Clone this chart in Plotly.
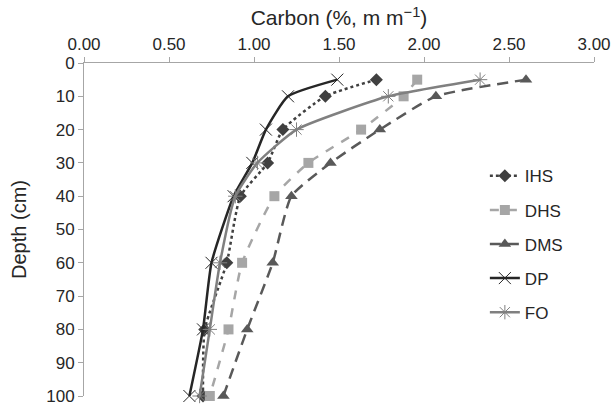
import plotly.graph_objects as go

depth = [5, 10, 20, 30, 40, 60, 80, 100]
ihs = [1.72, 1.42, 1.17, 1.08, 0.92, 0.84, 0.71, 0.70]
dhs = [1.96, 1.88, 1.63, 1.32, 1.12, 0.93, 0.85, 0.74]
dms = [2.60, 2.07, 1.74, 1.45, 1.22, 1.11, 0.96, 0.82]
dp = [1.49, 1.20, 1.07, 0.99, 0.88, 0.75, 0.70, 0.62]
fo = [2.33, 1.79, 1.25, 1.02, 0.89, 0.80, 0.74, 0.68]

x_ticks = [0, 0.5, 1.0, 1.5, 2.0, 2.5, 3.0]
x_labels = ["0.00", "0.50", "1.00", "1.50", "2.00", "2.50", "3.00"]
y_ticks = list(range(0, 101, 10))

series = [
    ("IHS", ihs, "#404040", "dot", "diamond", 10),
    ("DHS", dhs, "#a6a6a6", "dash", "square", 10),
    ("DMS", dms, "#595959", "11px,7px", "triangle-up", 11),
    ("DP", dp, "#262626", "solid", "x-thin", 12),
    ("FO", fo, "#808080", "solid", "asterisk", 12),
]

fig = go.Figure()
for i, (name, vals, col, dash, sym, sz) in enumerate(series):
    marker = dict(symbol=sym, size=sz, color=col)
    if sym in ("x-thin", "asterisk"):
        marker["line"] = dict(color=col, width=1)
    fig.add_trace(go.Scatter(
        x=vals, y=depth, name=name, mode="lines+markers",
        line=dict(color=col, width=2.5, dash=dash, shape="spline", smoothing=0.5),
        marker=marker, legendgroup=f"g{i}", cliponaxis=False,
    ))

fig.update_layout(
    width=613, height=404,
    margin=dict(l=84, r=19, t=63, b=8),
    paper_bgcolor="white", plot_bgcolor="white",
    font=dict(family="Liberation Sans, Arial, sans-serif", color="#262626", size=17),
    legend=dict(x=0.786, y=0.714, xanchor="left", yanchor="top",
                font=dict(size=17), tracegroupgap=9, bgcolor="rgba(0,0,0,0)"),
    xaxis=dict(side="top", range=[0, 3], tickvals=x_ticks, ticktext=x_labels,
               showgrid=False, zeroline=False, showline=True, linecolor="#a6a6a6",
               ticks="outside", ticklen=5, tickcolor="#a6a6a6", automargin=False,
               ticklabeloverflow="allow",
               title=dict(text="Carbon (%, m m<sup>−1</sup>)", font=dict(size=21), standoff=3)),
    yaxis=dict(range=[100, 0], tickvals=y_ticks, showgrid=False, zeroline=False,
               showline=True, linecolor="#a6a6a6", ticks="outside", ticklen=5,
               tickcolor="#a6a6a6", automargin=False, ticklabeloverflow="allow",
               title=dict(text="Depth (cm)", font=dict(size=20), standoff=14)),
)

# remove the browser's default 8px body margin so the 613x404 figure fills the window
fig.write_html(
    "out.html",
    config={"displayModeBar": False},
    post_script="document.body.style.margin='0';document.body.style.overflow='hidden';",
)
